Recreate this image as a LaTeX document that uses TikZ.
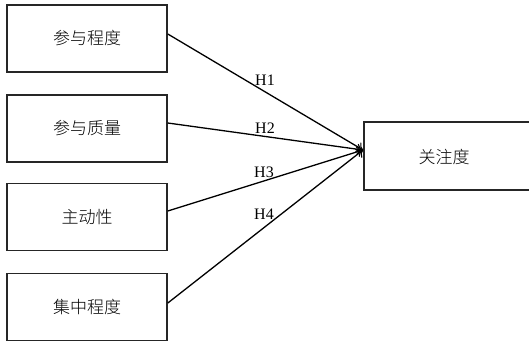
\documentclass[tikz,border=0pt]{standalone}
\usepackage{fontspec}
\setmainfont{Liberation Serif}
\newfontfamily\cjk{Noto Sans CJK SC Light}
\usetikzlibrary{arrows.meta}
\begin{document}
\begin{tikzpicture}[x=1pt,y=-1pt,
  box/.style={draw=black!85,line width=1.6pt,minimum width=160pt,minimum height=67pt,inner sep=0pt},
  edge/.style={draw=black!85,line width=1.6pt},
  cn/.style={font=\cjk\fontsize{17}{17}\selectfont,inner sep=0pt},
  arr/.style={line width=1.3pt,-{To[length=6pt,width=11pt,line width=1.1pt]}},
  hlab/.style={font=\fontsize{16}{16}\selectfont,inner sep=0pt}]
\useasboundingbox (0,0) rectangle (529,343);
\node[box,cn] (a) at (87,38.5) {参与程度};
\node[box,cn] (b) at (87,128.5) {参与质量};
\node[box,cn] (c) at (87,217) {主动性};
\node[box,cn] (d) at (87,307) {集中程度};
\node[minimum width=260pt,minimum height=68pt,inner sep=0pt,anchor=west] (e) at (364,156) {};
\draw[edge] (e.north east) -- (e.north west) -- (e.south west) -- (e.south east);
\node[cn] (et) at (444,157) {关注度};
\coordinate (t) at (363,150);
\draw[arr] (a.east |- 0,34) -- (t);
\draw[arr] (b.east |- 0,123) -- (t);
\draw[arr] (c.east |- 0,211) -- (t);
\draw[arr] (d.east |- 0,303) -- (t);
\node[hlab] (h1) at (265,80) {H1};
\node[hlab] (h2) at (265,128) {H2};
\node[hlab] (h3) at (264,172) {H3};
\node[hlab] (h4) at (264,214) {H4};
\end{tikzpicture}
\end{document}
